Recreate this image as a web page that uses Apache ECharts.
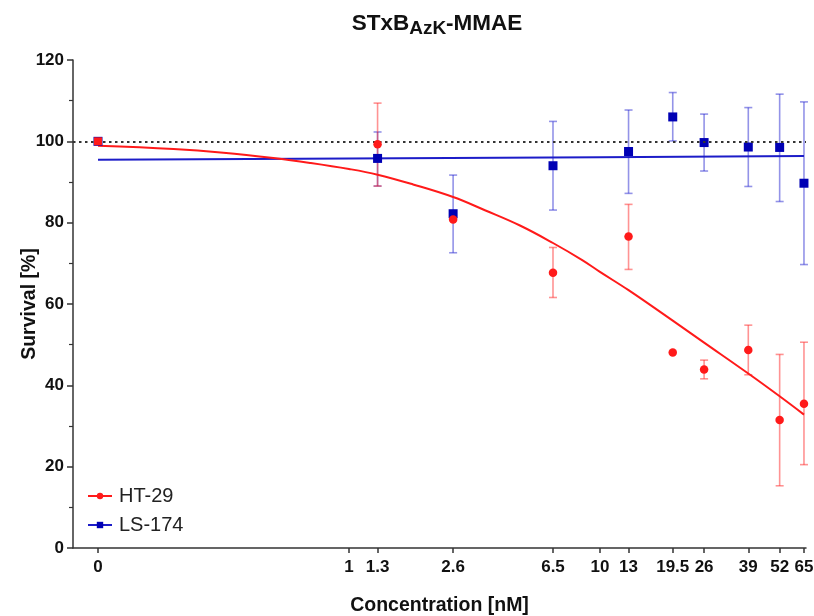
<!DOCTYPE html>
<html><head><meta charset="utf-8">
<script src="https://cdn.jsdelivr.net/npm/echarts@6/dist/echarts.min.js"></script>
<style>html,body{margin:0;padding:0;background:#fff}#c{width:814px;height:616px}</style>
</head><body><div id="c"></div>
<script>
// ---- data ----
const concentrations = [0, 1.3, 2.6, 6.5, 13, 19.5, 26, 39, 52, 65];
const ht29Mean = [100, 99.3, 80.8, 67.7, 76.6, 48.1, 43.9, 48.7, 31.5, 35.5];
const ht29Low  = [100, 89.0, 80.8, 61.6, 68.5, 48.1, 41.6, 42.6, 15.3, 20.5];
const ht29High = [100, 109.4, 80.8, 73.9, 84.5, 48.1, 46.2, 54.8, 47.6, 50.6];
const ls174Mean = [100, 95.8, 82.2, 94.0, 97.5, 106.0, 99.7, 98.6, 98.5, 89.7];
const ls174Low  = [100, 89.0, 72.6, 83.1, 87.2, 100.1, 92.7, 88.9, 85.2, 69.7];
const ls174High = [100, 102.3, 91.7, 104.9, 107.7, 112.0, 106.7, 108.3, 111.6, 109.7];
const ht29FitConc = [0, 0.2, 0.316, 0.5, 0.7, 1, 1.3, 1.8, 2.6, 3.5, 4.8, 6.5, 8.5, 10, 13, 19.5, 26, 39, 52, 65];
const ht29FitVal  = [98.9, 98.1, 97.2, 95.9, 94.7, 93.2, 91.8, 89.4, 86.3, 83.0, 79.3, 75.0, 70.8, 67.9, 63.4, 55.9, 50.5, 42.9, 37.3, 32.8];
const ls174FitConc = [0, 1, 10, 65];
const ls174FitVal  = [95.5, 95.8, 96.1, 96.4];
const xTickLabels = [0, 1, 1.3, 2.6, 6.5, 10, 13, 19.5, 26, 39, 52, 65];
const referenceLevel = 100;

// zero is plotted one decade below 1 on the log axis
const ZERO_AT = 0.1;
const toX = c => Math.log10(c === 0 ? ZERO_AT : c);
const tickPos = xTickLabels.map(toX);

const FONT = 'Liberation Sans, Arial, Helvetica, sans-serif';
const RED = '#ff1a1a', BLUE = '#1c1cc8', BLUE_PT = '#0000b4';

function errorSeries(lows, highs, color) {
  return {
    type: 'custom', silent: true, z: 2,
    data: concentrations.map((c, i) => [toX(c), lows[i], highs[i]]),
    encode: { x: 0, y: [1, 2] },
    renderItem(params, api) {
      const x = api.value(0), lo = api.value(1), hi = api.value(2);
      if (Math.abs(hi - lo) < 0.01) return { type: 'group', children: [] };
      const p1 = api.coord([x, lo]), p2 = api.coord([x, hi]);
      const w = 4, st = { stroke: color, lineWidth: 1.6 };
      return { type: 'group', children: [
        { type: 'line', shape: { x1: p1[0], y1: p1[1], x2: p2[0], y2: p2[1] }, style: st },
        { type: 'line', shape: { x1: p1[0] - w, y1: p1[1], x2: p1[0] + w, y2: p1[1] }, style: st },
        { type: 'line', shape: { x1: p2[0] - w, y1: p2[1], x2: p2[0] + w, y2: p2[1] }, style: st }
      ]};
    }
  };
}

const chart = echarts.init(document.getElementById('c'), null, { renderer: 'canvas' });
chart.setOption({
  animation: false,
  backgroundColor: '#fff',
  title: {
    text: '{a|STxB}{s|AzK}{a|-MMAE}',
    left: 432, textAlign: 'center', top: 7,
    textStyle: { rich: {
      a: { fontFamily: FONT, fontWeight: 'bold', fontSize: 22.5, color: '#111', lineHeight: 28, verticalAlign: 'top' },
      s: { fontFamily: FONT, fontWeight: 'bold', fontSize: 19, color: '#111', lineHeight: 28, verticalAlign: 'top', padding: [7,0,0,0] }
    }}
  },
  legend: {
    data: ['HT-29', 'LS-174'],
    orient: 'vertical', left: 82, top: 481, itemGap: 9,
    itemWidth: 24, itemHeight: 8,
    textStyle: { fontFamily: FONT, fontSize: 20, color: '#222', padding: [0,0,0,2] }
  },
  grid: { left: 73, right: 8, top: 60, bottom: 68, containLabel: false, outerBoundsMode: 'none' },
  xAxis: {
    type: 'value', min: -1.0996, max: 1.821,
    name: 'Concentration [nM]', nameLocation: 'middle', nameGap: 48, nameMoveOverlap: false,
    nameTextStyle: { fontFamily: FONT, fontWeight: 'bold', fontSize: 19.5, color: '#111' },
    axisLine: { show: true, onZero: false, lineStyle: { color: '#333', width: 1.5 } },
    axisTick: { show: true, customValues: tickPos, length: 5, lineStyle: { color: '#333', width: 1.5 } },
    axisLabel: {
      customValues: tickPos, margin: 11, hideOverlap: false,
      fontFamily: FONT, fontWeight: 'bold', fontSize: 17, color: '#111',
      formatter: v => {
        let best = 0, d = Infinity;
        tickPos.forEach((p, i) => { if (Math.abs(p - v) < d) { d = Math.abs(p - v); best = i; } });
        return String(xTickLabels[best]);
      }
    },
    splitLine: { show: false }
  },
  yAxis: {
    type: 'value', min: 0, max: 120, interval: 20,
    name: 'Survival [%]', nameLocation: 'middle', nameGap: 33, nameMoveOverlap: false,
    nameTextStyle: { fontFamily: FONT, fontWeight: 'bold', fontSize: 19.5, color: '#111' },
    axisLine: { show: true, onZero: false, lineStyle: { color: '#333', width: 1.5 } },
    axisTick: { show: true, length: 6, lineStyle: { color: '#333', width: 1.5 } },
    minorTick: { show: true, splitNumber: 2, length: 4, lineStyle: { color: '#333', width: 1.2 } },
    axisLabel: { margin: 9, fontFamily: FONT, fontWeight: 'bold', fontSize: 17, color: '#111' },
    splitLine: { show: false }
  },
  series: [
    errorSeries(ls174Low, ls174High, 'rgba(40,40,210,0.5)'),
    errorSeries(ht29Low, ht29High, 'rgba(255,40,40,0.5)'),
    {
      name: 'LS-174', type: 'line', z: 3, symbol: 'rect', showSymbol: false,
      data: ls174FitConc.map((c, i) => [toX(c), ls174FitVal[i]]),
      lineStyle: { color: BLUE, width: 2 }, itemStyle: { color: BLUE_PT },
      markLine: {
        silent: true, symbol: 'none', label: { show: false },
        lineStyle: { type: [2.5, 3.5], color: '#333', width: 2.2 },
        data: [{ yAxis: referenceLevel }]
      }
    },
    {
      name: 'HT-29', type: 'line', z: 3, symbol: 'circle', showSymbol: false, smooth: 0.4,
      data: ht29FitConc.map((c, i) => [toX(c), ht29FitVal[i]]),
      lineStyle: { color: RED, width: 2 }, itemStyle: { color: RED }
    },
    {
      name: 'LS-174', type: 'scatter', z: 4, symbol: 'rect', symbolSize: 9,
      data: concentrations.map((c, i) => [toX(c), ls174Mean[i]]),
      itemStyle: { color: BLUE_PT, opacity: 1 }
    },
    {
      name: 'HT-29', type: 'scatter', z: 5,
      data: concentrations.map((c, i) => ({ value: [toX(c), ht29Mean[i]], symbol: c === 0 ? 'rect' : 'circle', symbolSize: c === 0 ? 8 : 8.5 })),
      itemStyle: { color: RED, opacity: 1 }
    }
  ]
});
</script>
</body></html>
